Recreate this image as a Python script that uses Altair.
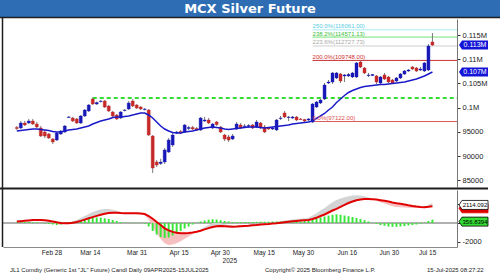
import altair as alt
import pandas as pd

# ---------------- data ----------------
opens = [95890, 95790, 96820, 96820, 97230, 96610, 95790, 94960, 94550, 93510,
         93310, 94550, 94960, 97960, 97850, 97650, 96820, 98270, 99300, 101780,
         100740, 101260, 101360, 100330, 99090, 98470, 97850, 99400, 99710, 101360,
         100540, 100120, 99610, 99500, 94130, 88760, 88450, 88760, 90830, 92270,
         94750, 95060, 94960, 95680, 95890, 95680, 95370, 97230, 97440, 95790,
         97030, 95990, 94340, 93930, 93510, 95580, 96410, 96100, 96100, 96410,
         95990, 96820, 95990, 95790, 95580, 95370, 97750, 98890, 97960, 97850,
         98060, 97650, 97540, 97440, 97030, 100120, 100950, 101780, 105080, 105290,
         106120, 106940, 106530, 106530, 106320, 106320, 109420, 108180, 106630, 106630,
         106530, 105080, 106740, 106320, 105700, 105500, 106120, 106940, 107560, 108390,
         108180, 107770, 107560, 107770, 113550]
highs = [96200, 97230, 97230, 97650, 97650, 97030, 96200, 95370, 94750, 93720,
         94960, 95370, 96410, 98270, 98060, 97850, 98470, 99710, 100740, 102090,
         101260, 101570, 101570, 100540, 99300, 98680, 99300, 99710, 101360, 101780,
         100740, 100330, 99920, 99710, 94340, 89180, 89420, 91650, 93720, 94750,
         95170, 95370, 96610, 96200, 96200, 95990, 98060, 98060, 97850, 96820,
         97230, 96200, 94550, 94340, 94550, 97030, 96820, 96610, 96610, 96610,
         97440, 97030, 96410, 95990, 95990, 97650, 98270, 99300, 98270, 98270,
         98270, 97850, 97650, 97850, 100950, 101360, 101880, 105080, 105700, 107360,
         107360, 107150, 106940, 107150, 107360, 109420, 109630, 108390, 107150, 106940,
         106740, 106530, 107150, 106530, 105910, 106320, 107150, 107770, 107980, 108600,
         108390, 108390, 109420, 113140, 115410]
lows = [95370, 95580, 96200, 96610, 96410, 95790, 93930, 93720, 93510, 92480,
        93100, 94340, 94750, 97850, 97030, 96610, 96610, 98060, 99090, 100540,
        100540, 101050, 99920, 99090, 98060, 97440, 97650, 99190, 99500, 100120,
        99710, 99500, 99400, 94130, 86490, 87730, 88140, 88350, 90620, 91860,
        94550, 94550, 94750, 95370, 95370, 95170, 95170, 97030, 96610, 95580,
        96200, 94750, 93100, 92890, 93310, 95370, 95580, 95790, 95790, 95580,
        95790, 95580, 94750, 95370, 95370, 95170, 97440, 97850, 97230, 97650,
        97230, 97440, 97030, 97230, 96820, 99920, 100740, 101570, 104880, 104880,
        105910, 105080, 105290, 106320, 106120, 106120, 108180, 106940, 106320, 106530,
        104880, 104880, 105700, 105080, 104880, 105290, 105910, 106740, 107360, 107770,
        107360, 107560, 107360, 107560, 112730]
closes = [95680, 96820, 96410, 97230, 96610, 95990, 94130, 94130, 93720, 92890,
          94750, 95170, 96200, 98060, 97230, 96820, 98270, 99500, 100540, 100740,
          101050, 101360, 100120, 99300, 98270, 97650, 99090, 99500, 100950, 100330,
          99920, 99710, 99710, 94340, 87520, 88140, 88760, 91240, 93310, 94340,
          94960, 94750, 96410, 95890, 95580, 95370, 97850, 97440, 96820, 96610,
          96510, 94960, 93510, 93310, 94130, 96610, 95790, 96200, 96300, 95790,
          97030, 95790, 94960, 95580, 95790, 97440, 97850, 98060, 98060, 98060,
          97440, 97540, 97230, 97650, 100740, 101160, 101570, 104670, 105290, 107150,
          107150, 105500, 106740, 106840, 107150, 109220, 108390, 107150, 106740, 106840,
          105290, 106320, 105910, 105290, 105080, 106120, 106940, 107560, 107770, 107980,
          107560, 107980, 109220, 112730, 112930]
ema = [95170, 95270, 95370, 95480, 95580, 95580, 95480, 95370, 95270, 95060,
       94960, 94960, 95170, 95370, 95480, 95580, 95790, 95990, 96200, 96610,
       96920, 97230, 97440, 97650, 97960, 98060, 98060, 98160, 98270, 98470,
       98680, 98890, 98890, 98470, 97850, 97030, 96200, 95580, 95170, 94850,
       94750, 94750, 94960, 95060, 95170, 95370, 95580, 95790, 95890, 95990,
       95890, 95790, 95580, 95480, 95580, 95680, 95790, 95890, 95990, 95990,
       95990, 95890, 95790, 95890, 95990, 96100, 96200, 96300, 96410, 96610,
       96720, 96820, 96920, 97030, 97230, 97750, 98270, 98780, 99500, 100120,
       101050, 101780, 102500, 103120, 103530, 103840, 104150, 104360, 104460, 104570,
       104670, 104770, 104770, 104880, 104980, 105080, 105190, 105290, 105500, 105700,
       105910, 106220, 106530, 106940, 107360]
signal = [147, 190, 232, 274, 305, 316, 305, 284, 242, 168,
          84, 11, -32, -21, 21, 105, 221, 358, 495, 621,
          748, 874, 979, 1053, 1085, 1074, 1042, 1021, 1021, 1021,
          1021, 990, 948, 737, 442, 105, -211, -558, -779, -937,
          -1032, -1085, -1085, -1064, -1011, -927, -811, -674, -537, -421,
          -337, -326, -347, -369, -390, -369, -337, -305, -284, -242,
          -211, -168, -126, -95, -53, -21, 32, 84, 137, 179,
          221, 253, 284, 316, 421, 548, 737, 895, 1106, 1316,
          1495, 1706, 1916, 2106, 2264, 2401, 2485, 2527, 2527, 2506,
          2464, 2401, 2338, 2253, 2159, 2085, 2022, 1948, 1864, 1790,
          1727, 1674, 1664, 1700, 1757]
hist = [53, 84, 105, 105, 84, 53, 21, -53, -105, -158,
        -211, -158, -84, 53, 126, 211, 295, 369, 453, 527,
        579, 558, 505, 421, 316, 211, 105, 32, 32, 53,
        32, -32, -84, -369, -842, -1211, -1474, -1580, -1527, -1316,
        -1106, -842, -579, -369, -158, 53, 158, 263, 347, 400,
        369, 295, 211, 158, 105, 84, 105, 105, 105, 105,
        126, 137, 137, 137, 158, 158, 158, 179, 179, 190,
        190, 190, 211, 232, 369, 474, 579, 684, 790, 863,
        916, 874, 790, 716, 632, 527, 421, 295, 158, 32,
        -105, -211, -295, -369, -400, -400, -369, -316, -263, -211,
        -158, -84, 53, 211, 357]

fib_labels = ["250.0%(116061.00)", "238.2%(114571.13)", "223.6%(112727.73)",
              "200.0%(109748.00)", "0.0%(97122.00)"]
fib_values = [116061.00, 114571.13, 112727.73, 109748.00, 97122.00]
fib_start = 74
support_value = 102000
support_start = 19

price_tags = ["0.113M", "0.107M"]
price_tag_values = [112930, 107360]
macd_tags = ["", "2114.092", "356.8394"]
macd_tag_values = [1757, 2114.092, 356.8394]

x_labels = ["Feb 28", "Mar 14", "Mar 31", "Apr 15", "Apr 30",
            "May 15", "May 30", "Jun 16", "Jun 30", "Jul 15"]
x_label_pos = [8.8, 18.4, 30.1, 40.6, 50.9, 61.9, 71.7, 82.7, 93.2, 102.8]
year_label = "2025"
year_pos = 53.3
price_ticks = [85000, 90000, 95000, 100000, 105000, 110000, 115000]

title = "MCX Silver Future"
footer_left = 'JL1 Comdty (Generic 1st "JL" Future) Candl  Daily 09APR2025-15JUL2025'
footer_mid = "Copyright\u00a9 2025 Bloomberg Finance L.P."
footer_right = "15-Jul-2025 08:27:22"

# ---------------- styling ----------------
UP = "#1818B8"
DOWN = "#C62828"
FONT = "Liberation Sans"
W, H = 454, 247

df = pd.DataFrame({"i": list(range(len(closes))), "open": opens, "high": highs,
                   "low": lows, "close": closes, "ema": ema,
                   "signal": signal, "hist": hist})
df["col"] = [UP if c >= o else DOWN for o, c in zip(opens, closes)]
df["macd"] = df["signal"] + df["hist"]
df["gray_top"] = df[["macd", "signal"]].max(axis=1)
df["pink_bot"] = df[["macd", "signal"]].min(axis=1)
df["zero"] = 0

xscale = alt.Scale(domain=[-2.2024, 108.895], nice=False, zero=False)
xaxis = alt.Axis(labels=False, ticks=False, grid=False, title=None,
                 domainColor="#8a8a8a", domainWidth=1)


def X(field):
    return alt.X(field, type="quantitative", scale=xscale, axis=xaxis)


ys_main = alt.Scale(domain=[83595, 118306], range=[187, 19], nice=False, zero=False)
yaxis_main = alt.Axis(orient="right", values=price_ticks, grid=False, title=None,
                      labelExpr="datum.value >= 100000 ? (datum.value/1000000) + 'M' : '' + datum.value",
                      tickSize=3, tickColor="#333", domainColor="#777",
                      labelFont=FONT, labelFontSize=7.5, labelColor="#222", labelPadding=2)


def YM(field):
    return alt.Y(field, type="quantitative", scale=ys_main, axis=yaxis_main)


ys_macd = alt.Scale(domain=[-2527, 3475], range=[247, 190], nice=False, zero=False)
yaxis_macd = alt.Axis(orient="right", values=[-2000, 0, 2000], grid=False, title=None,
                      labelExpr="datum.value == -2000 ? '-2000' : ''",
                      tickSize=3, tickColor="#333", domainColor="#777",
                      labelFont=FONT, labelFontSize=7.5, labelColor="#222", labelPadding=2)


def YD(field):
    return alt.Y(field, type="quantitative", scale=ys_macd, axis=yaxis_macd)


base = alt.Chart(df)

# main price panel
wicks = base.mark_rule(color="#7a7a7a", strokeWidth=1).encode(x=X("i"), y=YM("low"), y2="high")
bodies = base.mark_bar(size=3, strokeWidth=0.4).encode(
    x=X("i"), y=YM("open"), y2="close",
    color=alt.Color("col:N", scale=None), stroke=alt.Stroke("col:N", scale=None))
ema_line = base.mark_line(color="#1a1ac8", strokeWidth=1.5).encode(x=X("i"), y=YM("ema"))

fib_df = pd.DataFrame({"start": [fib_start] * 5, "v": fib_values, "label": fib_labels,
                       "lc": ["#a8ecf4", "#78e078", "#cfcfcf", "#c83030", "#d85a5a"],
                       "tc": ["#55cde0", "#40c040", "#a8a8a8", "#d03030", "#e05050"]})
fib_rules = alt.Chart(fib_df).mark_rule(strokeWidth=1).encode(
    x=X("start"), x2=alt.value(W), y=YM("v"), color=alt.Color("lc:N", scale=None))
fib_text = alt.Chart(fib_df).mark_text(align="left", baseline="bottom", dy=-0.5,
                                       fontSize=6, font=FONT).encode(
    x=X("start"), y=YM("v"), text="label:N", color=alt.Color("tc:N", scale=None))

sup_df = pd.DataFrame({"start": [support_start], "v": [support_value]})
support = alt.Chart(sup_df).mark_rule(color="#33dd33", strokeWidth=2, strokeDash=[4, 3]).encode(
    x=X("start"), x2=alt.value(W), y=YM("v"))

tag_path = "M -1.067 0 L -0.867 -0.3 L 0.867 -0.3 L 0.867 0.3 L -0.867 0.3 Z"
ptag_df = pd.DataFrame({"v": price_tag_values, "t": price_tags})
ptags = alt.Chart(ptag_df).mark_point(shape=tag_path, size=900, filled=True, opacity=1,
                                      color="#1414d8").encode(x=alt.value(472), y=YM("v"))
ptag_text = alt.Chart(ptag_df).mark_text(color="white", fontSize=7, font=FONT).encode(
    x=alt.value(472), y=YM("v"), text="t:N")

main = alt.layer(fib_rules, support, wicks, bodies, ema_line, fib_text, ptags, ptag_text)

# MACD panel
zero_line = base.mark_rule(color="#b0b0b0", strokeWidth=0.8).encode(
    x=alt.value(0), x2=alt.value(W), y=YD("zero"))
gray_band = base.mark_area(color="#d4d4d4").encode(x=X("i"), y=YD("gray_top"), y2="signal")
pink_band = base.mark_area(color="#f6c0c0").encode(x=X("i"), y=YD("pink_bot"), y2="signal")
hist_bars = base.mark_bar(size=2, color="#3ae63a").encode(x=X("i"), y=YD("hist"), y2="zero")
sig_line = base.mark_line(color="#e00000", strokeWidth=2).encode(x=X("i"), y=YD("signal"))

mtag_df = pd.DataFrame({"v": macd_tag_values, "t": macd_tags,
                        "f": ["#e00000", "#ffffff", "#33dd33"],
                        "s": ["#e00000", "#000000", "#000000"]})
mtags = alt.Chart(mtag_df).mark_point(shape=tag_path, size=900, filled=True, opacity=1,
                                      strokeWidth=0.8, yOffset=2).encode(
    x=alt.value(472), y=YD("v"), fill=alt.Fill("f:N", scale=None),
    stroke=alt.Stroke("s:N", scale=None))
mtag_text = alt.Chart(mtag_df).mark_text(color="black", fontSize=6, font=FONT, yOffset=2).encode(
    x=alt.value(472), y=YD("v"), text="t:N")

macd = alt.layer(zero_line, gray_band, pink_band, hist_bars, sig_line, mtags, mtag_text)

# decorations and texts
one = pd.DataFrame({"a": [0]})
title_bar = alt.Chart(one).mark_rect(color="#2e6db4").encode(
    x=alt.value(-3), x2=alt.value(497), y=alt.value(0), y2=alt.value(17))
title_line = alt.Chart(one).mark_rule(color="#1e1e1e", strokeWidth=1.5).encode(
    x=alt.value(-3), x2=alt.value(497), y=alt.value(17.5))
title_text = alt.Chart(one).mark_text(text=title, color="white", fontSize=13,
                                      fontWeight="bold", font="DejaVu Sans").encode(
    x=alt.value(247), y=alt.value(9))
left_border = alt.Chart(one).mark_rule(color="#1e1e1e", strokeWidth=1.5).encode(
    x=alt.value(-0.5), y=alt.value(17), y2=alt.value(247))
separator = alt.Chart(one).mark_rule(color="#1e1e1e", strokeWidth=2).encode(
    x=alt.value(-3), x2=alt.value(485), y=alt.value(188.5))

xl_df = pd.DataFrame({"pos": x_label_pos, "label": x_labels})
xlabels = alt.Chart(xl_df).mark_text(fontSize=6.5, font=FONT, color="#222").encode(
    x=X("pos"), y=alt.value(252.5), text="label:N")
yr_df = pd.DataFrame({"pos": [year_pos], "label": [year_label]})
ylabel = alt.Chart(yr_df).mark_text(fontSize=6.5, font=FONT, color="#222").encode(
    x=X("pos"), y=alt.value(260.5), text="label:N")

f1 = alt.Chart(one).mark_text(text=footer_left, align="left", fontSize=6, font=FONT,
                              color="#222").encode(x=alt.value(7), y=alt.value(270))
f2 = alt.Chart(one).mark_text(text=footer_mid, align="left", fontSize=6, font=FONT,
                              color="#222").encode(x=alt.value(262), y=alt.value(270))
f3 = alt.Chart(one).mark_text(text=footer_right, align="left", fontSize=6, font=FONT,
                              color="#222").encode(x=alt.value(424), y=alt.value(270))

deco = alt.layer(title_bar, title_line, title_text, left_border, separator,
                 xlabels, ylabel, f1, f2, f3)

chart = alt.layer(main, macd, deco).resolve_scale(y="independent").properties(
    width=W, height=H,
    padding={"left": 3, "top": 0, "right": 43, "bottom": 33},
    autosize=alt.AutoSizeParams(type="none"),
    background="white",
).configure_view(strokeWidth=0)

chart.save("out.html", embed_options={"renderer": "svg", "actions": False})
